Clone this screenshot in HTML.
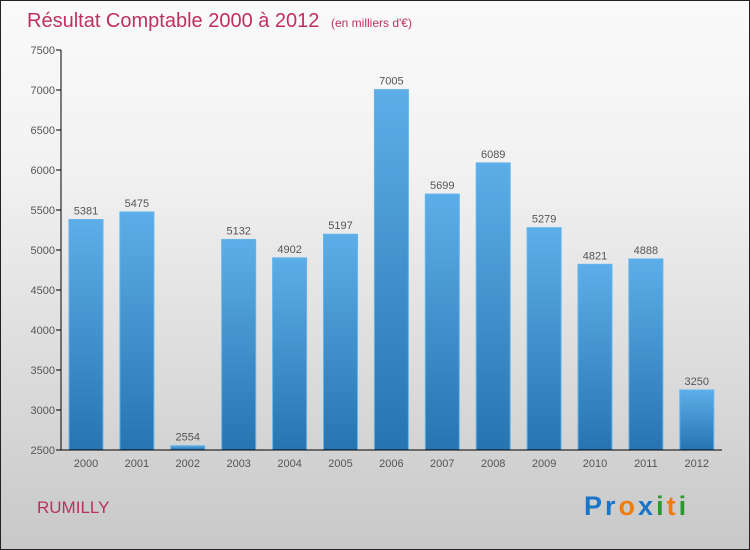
<!DOCTYPE html>
<html><head><meta charset="utf-8"><style>
body{margin:0}
#c{position:relative;width:748px;height:548px;border:1px solid #222;background:linear-gradient(#fafafa,#f2f2f2 30%,#c8c8c8);font-family:"Liberation Sans",sans-serif;overflow:hidden}
</style></head><body>
<div id="c">
<svg width="748" height="548" id="svg">
<defs><linearGradient id="g" x1="0" y1="0" x2="0" y2="1"><stop offset="0" stop-color="#5daee8"/><stop offset="1" stop-color="#2774b0"/></linearGradient></defs>
<text x="26" y="26" font-size="20" fill="#c0305e">Résultat Comptable 2000 à 2012 <tspan font-size="12" dx="6">(en milliers d'€)</tspan></text>
<text x="36" y="512" font-size="17" fill="#b83060">RUMILLY</text>
<text x="583" y="514" font-size="27" font-weight="bold" letter-spacing="3"><tspan fill="#1a74c8">Pr</tspan><tspan fill="#f07c10">o</tspan><tspan fill="#1a74c8">x</tspan><tspan fill="#2a9a30">i</tspan><tspan fill="#f07c10">t</tspan><tspan fill="#2a9a30">i</tspan></text>
<g id="plot"></g>
</svg>
</div>
<script>
const categories=["2000","2001","2002","2003","2004","2005","2006","2007","2008","2009","2010","2011","2012"];
const values=[5381,5475,2554,5132,4902,5197,7005,5699,6089,5279,4821,4888,3250];
const yTicks=[2500,3000,3500,4000,4500,5000,5500,6000,6500,7000,7500];
const NS="http://www.w3.org/2000/svg";
const g=document.getElementById('plot');
const y=v=>449-(v-2500)*400/5000;
const x=i=>85+i*50.9;
function el(t,a){const e=document.createElementNS(NS,t);for(const k in a)e.setAttribute(k,a[k]);g.appendChild(e);return e;}
yTicks.forEach(t=>{
 const l=el('line',{x1:55,x2:60,y1:y(t),y2:y(t),stroke:'#000'});
 
 
 const tx=el('text',{x:54,y:y(t)+4,'text-anchor':'end','font-size':11,fill:'#555'});tx.textContent=t;
 
 
});
categories.forEach((c,i)=>{
 const v=values[i];
 const r=el('rect',{x:x(i)-17,y:y(v),width:34,height:y(2500)-y(v),fill:'url(#g)',stroke:'#62b4ec','stroke-width':1});
 
 
 const vl=el('text',{x:x(i),y:y(v)-5,'text-anchor':'middle','font-size':11,fill:'#555'});vl.textContent=v;
 
 
 const xl=el('text',{x:x(i),y:466,'text-anchor':'middle','font-size':11,fill:'#555'});xl.textContent=c;
 
 
});
const ya=el('line',{x1:60,x2:60,y1:y(7500),y2:y(2500),stroke:'#000'});


const xa=el('line',{x1:60,x2:721,y1:y(2500),y2:y(2500),stroke:'#000'});


</script>
</body></html>
